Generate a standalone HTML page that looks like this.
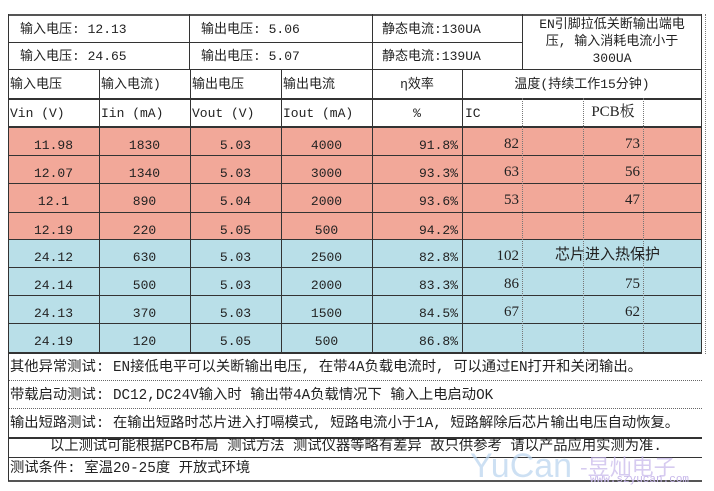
<!DOCTYPE html>
<html><head><meta charset="utf-8"><style>
body{margin:0;background:#fff;width:714px;height:491px;overflow:hidden;position:relative;font-family:"Liberation Mono","Noto Sans CJK SC",monospace;font-size:13px;color:#222}
.b{position:absolute;box-sizing:border-box}
.t{position:absolute;white-space:nowrap;line-height:16px}
.hl{position:absolute;height:0;border-top:1px solid #333}
.vl{position:absolute;width:0;border-left:1px solid #333}
.dl{position:absolute;width:0;border-left:1px dotted #777}
.hd{position:absolute;height:0;border-top:1px dotted #666}
.c{text-align:center}
.r{text-align:right}
.bt{font-size:14.3px;line-height:18px}
</style></head><body>
<div class="b" style="left:8px;top:127px;width:694px;height:113px;background:#f2a899"></div>
<div class="b" style="left:8px;top:239px;width:694px;height:113px;background:#b9dfe8"></div>

<div class="hl" style="left:8px;top:14px;width:694px;border-top:2px solid #555"></div>
<div class="hl" style="left:8px;top:42px;width:514px"></div>
<div class="hl" style="left:8px;top:69px;width:694px"></div>
<div class="hl" style="left:8px;top:98px;width:694px;border-top:2px solid #333"></div>
<div class="hl" style="left:8px;top:126px;width:694px;border-top:2px solid #333"></div>
<div class="hl" style="left:8px;top:155px;width:694px"></div>
<div class="hl" style="left:8px;top:183px;width:694px"></div>
<div class="hl" style="left:8px;top:212px;width:694px"></div>
<div class="hl" style="left:8px;top:239px;width:694px"></div>
<div class="hl" style="left:8px;top:267px;width:694px"></div>
<div class="hl" style="left:8px;top:295px;width:694px"></div>
<div class="hl" style="left:8px;top:323px;width:694px"></div>
<div class="hl" style="left:8px;top:352px;width:694px;border-top:2px solid #333"></div>
<div class="hd" style="left:8px;top:380px;width:694px"></div>
<div class="hd" style="left:8px;top:408px;width:694px"></div>
<div class="hl" style="left:8px;top:437px;width:694px;border-top:2px solid #333"></div>
<div class="hl" style="left:8px;top:457px;width:694px"></div>
<div class="hl" style="left:8px;top:480px;width:694px;border-top:2px solid #555"></div>

<div class="vl" style="left:8px;top:14px;height:467px"></div>
<div class="vl" style="left:701px;top:14px;height:85px"></div>
<div class="vl" style="left:189px;top:14px;height:56px"></div>
<div class="vl" style="left:372px;top:14px;height:56px"></div>
<div class="vl" style="left:522px;top:14px;height:56px"></div>
<div class="vl" style="left:99px;top:69px;height:283px"></div>
<div class="vl" style="left:190px;top:69px;height:283px"></div>
<div class="vl" style="left:281px;top:69px;height:283px"></div>
<div class="vl" style="left:372px;top:69px;height:283px"></div>
<div class="vl" style="left:462px;top:69px;height:283px"></div>
<div class="vl" style="left:701px;top:98px;height:254px"></div>
<div class="dl" style="left:522px;top:98px;height:254px"></div>
<div class="dl" style="left:583px;top:98px;height:254px"></div>
<div class="dl" style="left:643px;top:98px;height:254px"></div>
<div class="dl" style="left:705px;top:14px;height:340px"></div>

<div class="t" style="left:20px;top:22px">输入电压: 12.13</div>
<div class="t" style="left:201px;top:22px">输出电压: 5.06</div>
<div class="t" style="left:382px;top:22px">静态电流:130UA</div>
<div class="t" style="left:20px;top:49px">输入电压: 24.65</div>
<div class="t" style="left:201px;top:49px">输出电压: 5.07</div>
<div class="t" style="left:382px;top:49px">静态电流:139UA</div>
<div class="t c" style="left:522px;top:16px;width:180px;line-height:17px;font-size:13px">EN引脚拉低关断输出端电<br>压, 输入消耗电流小于<br>300UA</div>

<div class="t" style="left:10px;top:77px">输入电压</div>
<div class="t" style="left:101px;top:77px">输入电流)</div>
<div class="t" style="left:192px;top:77px">输出电压</div>
<div class="t" style="left:283px;top:77px">输出电流</div>
<div class="t c" style="left:372px;top:77px;width:90px">η效率</div>
<div class="t c" style="left:462px;top:77px;width:240px">温度(持续工作15分钟)</div>
<div class="t" style="left:10px;top:106px">Vin (V)</div>
<div class="t" style="left:101px;top:106px">Iin (mA)</div>
<div class="t" style="left:192px;top:106px">Vout (V)</div>
<div class="t" style="left:283px;top:106px">Iout (mA)</div>
<div class="t c" style="left:372px;top:106px;width:90px">%</div>
<div class="t" style="left:465px;top:106px">IC</div>
<div class="t c" style="left:583px;top:104px;width:60px;font-family:'Liberation Serif','Noto Serif CJK SC',serif;font-size:15px">PCB板</div>

<div id="d"></div>
<script>
var rows=[["11.98","1830","5.03","4000","91.8%","82","73"],["12.07","1340","5.03","3000","93.3%","63","56"],["12.1","890","5.04","2000","93.6%","53","47"],["12.19","220","5.05","500","94.2%","",""],["24.12","630","5.03","2500","82.8%","102",""],["24.14","500","5.03","2000","83.3%","86","75"],["24.13","370","5.03","1500","84.5%","67","62"],["24.19","120","5.05","500","86.8%","",""]];
var tops=[127,155,183,212,239,267,295,323],h="";
rows.forEach(function(r,i){var y=tops[i]+11;
[[8,91],[99,91],[190,91],[281,91]].forEach(function(c,j){h+='<div class="t c" style="left:'+c[0]+'px;top:'+y+'px;width:'+c[1]+'px">'+r[j]+'</div>';});
h+='<div class="t r" style="left:372px;top:'+y+'px;width:86px">'+r[4]+'</div>';
h+='<div class="t r" style="left:462px;top:'+(y-2)+'px;width:57px;font-family:Liberation Serif,serif;font-size:15px">'+r[5]+'</div>';
h+='<div class="t r" style="left:583px;top:'+(y-2)+'px;width:57px;font-family:Liberation Serif,serif;font-size:15px">'+r[6]+'</div>';});
document.getElementById('d').innerHTML=h;
</script>
<div class="t" style="left:555px;top:246px;font-family:'Noto Sans CJK SC',sans-serif;font-size:15px">芯片进入热保护</div>

<div class="t bt" style="left:10px;top:359px">其他异常测试: EN接低电平可以关断输出电压, 在带4A负载电流时, 可以通过EN打开和关闭输出。</div>
<div class="t bt" style="left:10px;top:387px">带载启动测试: DC12,DC24V输入时 输出带4A负载情况下 输入上电启动OK</div>
<div class="t bt" style="left:10px;top:415px">输出短路测试: 在输出短路时芯片进入打嗝模式, 短路电流小于1A, 短路解除后芯片输出电压自动恢复。</div>
<div class="t bt" style="left:50px;top:438px">以上测试可能根据PCB布局 测试方法 测试仪器等略有差异 故只供参考 请以产品应用实测为准.</div>
<div class="t bt" style="left:10px;top:460px">测试条件: 室温20-25度 开放式环境</div>
<div class="t" style="left:470px;top:446px;font-family:'Liberation Sans',sans-serif;font-size:34px;line-height:40px;color:#b8d4ee;opacity:.7">YuCan</div>
<div class="t" style="left:580px;top:453px;font-family:'Noto Sans CJK SC',sans-serif;font-size:22px;line-height:26px;color:#c6b6ea;opacity:.7">-昱灿电子</div>
<div class="t" style="left:590px;top:474px;font-size:11px;line-height:12px;color:#c6b6ea">www.szyucan.com</div>
</body></html>
